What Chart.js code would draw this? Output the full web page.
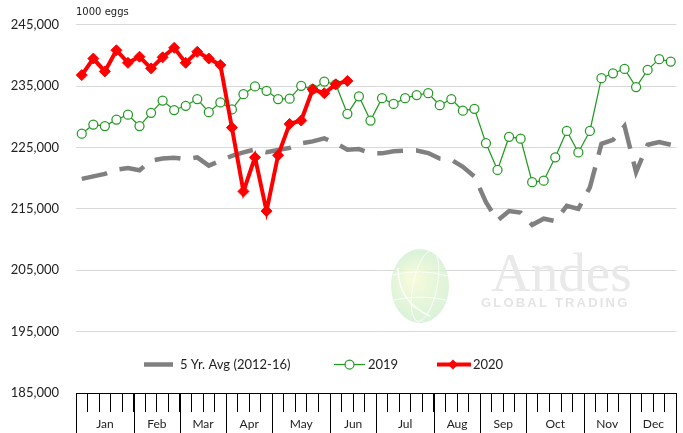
<!DOCTYPE html>
<html>
<head>
<meta charset="utf-8">
<script src="https://cdn.jsdelivr.net/npm/chart.js@4"></script>
<style>
  html, body { margin: 0; padding: 0; background: #fff; }
  #wrap { width: 683px; height: 433px; }
</style>
</head>
<body>
<div id="wrap"><canvas id="eggCanvas" width="683" height="433"></canvas></div>
<script>
// weekly egg sets, 1000 eggs
const weeks = [];
for (let i = 1; i <= 52; i++) weeks.push('W' + i);

const months = ['Jan', 'Feb', 'Mar', 'Apr', 'May', 'Jun', 'Jul', 'Aug', 'Sep', 'Oct', 'Nov', 'Dec'];
const weeksPerMonth = [5, 4, 4, 4, 5, 4, 5, 4, 4, 5, 4, 4];

const avg5yr = [
    219900, 220300, 220700, 221400, 221650, 221300, 222850, 223200, 223350, 223100,
    223400, 222050, 222850, 223650, 224200, 224700, 224250, 224600, 224950, 225700,
    226000, 226500, 225700, 224650, 224750, 224100, 224050, 224400, 224500, 224500,
    224100, 223200, 223000, 221850, 220300, 216100, 213100, 214650, 214400, 212400,
    213400, 213000, 215500, 215000, 218500, 225600, 226250, 228500, 221000, 225450,
    225900, 225450
];

const y2019 = [
    227250, 228750, 228500, 229550, 230350, 228500, 230650, 232650, 231100, 231800,
    232900, 230750, 232350, 231200, 233700, 234950, 234250, 232900, 232950, 235050,
    234500, 235750, 235300, 230500, 233350, 229400, 233050, 232100, 233050, 233550,
    233850, 231900, 232900, 231000, 231300, 225700, 221350, 226750, 226450, 219350,
    219600, 223400, 227700, 224200, 227700, 236300, 237100, 237800, 234850, 237650,
    239400, 239000
];

const y2020 = [
    236800, 239500, 237400, 240850, 238800, 239800, 237900, 239700, 241250, 238800,
    240600, 239500, 238450, 228250, 217850, 223400, 214650, 223750, 228850, 229400,
    234500, 233850, 235300, 235850
];

const yMin = 185000;
const yMax = 245000;
const yStep = 10000;

const seriesNames = ['5 Yr. Avg (2012-16)', '2019', '2020'];

const GRAY = '#808080';
const GREEN = '#249a24';
const RED = '#ff0000';

// month separators and month names under the week ticks
const monthAxis = {
    id: 'monthAxis',
    afterDraw(chart) {
        const ctx = chart.ctx;
        const x = chart.scales.x;
        const half = (x.getPixelForValue(1) - x.getPixelForValue(0)) / 2;
        const top = chart.chartArea.bottom;
        const bottom = chart.height;
        ctx.save();
        ctx.setLineDash([]);
        ctx.strokeStyle = '#000';
        ctx.lineWidth = 1;
        ctx.fillStyle = '#222';
        ctx.font = '12px Lato';
        ctx.textAlign = 'center';
        ctx.textBaseline = 'middle';
        let start = 0;
        months.forEach((m, i) => {
            const n = weeksPerMonth[i];
            const left = x.getPixelForValue(start) - half;
            const right = x.getPixelForValue(start + n - 1) + half;
            const lx = Math.round(left) + 0.5;
            ctx.beginPath();
            ctx.moveTo(lx, top);
            ctx.lineTo(lx, bottom);
            ctx.stroke();
            ctx.fillText(m, (left + right) / 2, 424);
            start += n;
        });
        const rx = Math.round(x.right) - 0.5;
        ctx.beginPath();
        ctx.moveTo(rx, top);
        ctx.lineTo(rx, bottom);
        ctx.stroke();
        ctx.restore();
    }
};

// unit label, watermark and the in-plot legend
const decorations = {
    id: 'decorations',
    beforeDatasetsDraw(chart) {
        const ctx = chart.ctx;
        ctx.save();
        ctx.setLineDash([]);
        // globe
        const g = ctx.createRadialGradient(412, 278, 4, 420, 287, 36);
        g.addColorStop(0, 'rgba(245, 250, 215, 0.9)');
        g.addColorStop(1, 'rgba(205, 238, 205, 0.75)');
        ctx.fillStyle = g;
        ctx.beginPath();
        ctx.ellipse(420, 286, 29, 37, 0, 0, Math.PI * 2);
        ctx.fill();
        ctx.strokeStyle = 'rgba(255,255,255,0.8)';
        ctx.lineWidth = 1;
        ctx.beginPath();
        ctx.ellipse(425, 286, 12, 36, 0.2, 0, Math.PI * 2);
        ctx.moveTo(393, 275); ctx.quadraticCurveTo(420, 268, 448, 276);
        ctx.moveTo(394, 300); ctx.quadraticCurveTo(420, 294, 446, 300);
        ctx.stroke();
        ctx.strokeStyle = 'rgba(255,255,255,0.95)';
        ctx.lineWidth = 1.5;
        ctx.beginPath();
        ctx.moveTo(398, 268); ctx.quadraticCurveTo(398, 302, 430, 316);
        ctx.stroke();
        // name
        ctx.fillStyle = '#e9e9e9';
        ctx.font = '55px "Liberation Serif"';
        ctx.textBaseline = 'alphabetic';
        ctx.fillText('Andes', 491, 291);
        ctx.fillStyle = '#e4e4e4';
        ctx.font = 'bold 13px "Liberation Sans"';
        ctx.letterSpacing = '2.2px';
        ctx.fillText('GLOBAL TRADING', 481, 307);
        ctx.restore();
    },
    afterDatasetsDraw(chart) {
        const ctx = chart.ctx;
        const area = chart.chartArea;
        ctx.save();
        ctx.setLineDash([]);
        ctx.fillStyle = '#222';
        ctx.font = '10px "DejaVu Sans"';
        ctx.textBaseline = 'middle';
        ctx.fillText('1000 eggs', area.left, 12);

        const ly = 364.5;
        ctx.font = '13px Lato';
        // 5 yr avg, solid bar in the key
        ctx.fillStyle = GRAY;
        ctx.fillRect(144, ly - 2.25, 29, 4.5);
        ctx.fillStyle = '#222';
        ctx.fillText(seriesNames[0], 180, ly);
        // 2019
        ctx.strokeStyle = GREEN;
        ctx.lineWidth = 1.25;
        ctx.beginPath(); ctx.moveTo(334, ly); ctx.lineTo(365, ly); ctx.stroke();
        ctx.fillStyle = '#fff';
        ctx.beginPath(); ctx.arc(349.5, ly, 4.5, 0, Math.PI * 2); ctx.fill(); ctx.stroke();
        ctx.fillStyle = '#222';
        ctx.fillText(seriesNames[1], 368, ly);
        // 2020
        ctx.fillStyle = RED;
        ctx.fillRect(437, ly - 2, 34, 4);
        ctx.beginPath();
        ctx.moveTo(453, ly - 5); ctx.lineTo(458, ly); ctx.lineTo(453, ly + 5); ctx.lineTo(448, ly);
        ctx.closePath(); ctx.fill();
        ctx.fillStyle = '#222';
        ctx.fillText(seriesNames[2], 473, ly);
        ctx.restore();
    }
};

const eggChart = new Chart(document.getElementById('eggCanvas'), {
    type: 'line',
    data: {
        labels: weeks,
        datasets: [
            {
                label: seriesNames[0],
                data: avg5yr,
                borderColor: GRAY,
                borderWidth: 4.5,
                borderDash: [26, 13],
                borderCapStyle: 'butt',
                pointRadius: 0,
                tension: 0,
                order: 3
            },
            {
                label: seriesNames[1],
                data: y2019,
                borderColor: GREEN,
                borderWidth: 1.25,
                pointRadius: 4.5,
                pointBackgroundColor: '#fff',
                pointBorderColor: GREEN,
                pointBorderWidth: 1.25,
                tension: 0,
                order: 2
            },
            {
                label: seriesNames[2],
                data: y2020,
                borderColor: RED,
                borderWidth: 4,
                pointStyle: 'rectRot',
                pointRadius: 5.5,
                pointBackgroundColor: RED,
                pointBorderColor: RED,
                pointBorderWidth: 1,
                tension: 0,
                order: 1
            }
        ]
    },
    options: {
        responsive: false,
        animation: false,
        events: [],
        layout: {
            padding: { top: 21, right: 1, bottom: 21, left: 0 }
        },
        plugins: {
            legend: { display: false },
            tooltip: { enabled: false }
        },
        scales: {
            x: {
                type: 'category',
                offset: true,
                grid: {
                    offset: true,
                    drawOnChartArea: false,
                    color: '#000',
                    tickLength: 19
                },
                border: { display: true, color: '#000', width: 1 },
                ticks: { display: false }
            },
            y: {
                min: yMin,
                max: yMax,
                afterFit(scale) { scale.width = 76; },
                grid: {
                    color: '#d9d9d9',
                    drawTicks: false
                },
                border: { display: false },
                ticks: {
                    stepSize: yStep,
                    padding: 17,
                    color: '#222',
                    font: { family: 'Lato', size: 13 },
                    callback: v => v.toLocaleString('en-US')
                }
            }
        }
    },
    plugins: [monthAxis, decorations]
});
</script>
</body>
</html>
